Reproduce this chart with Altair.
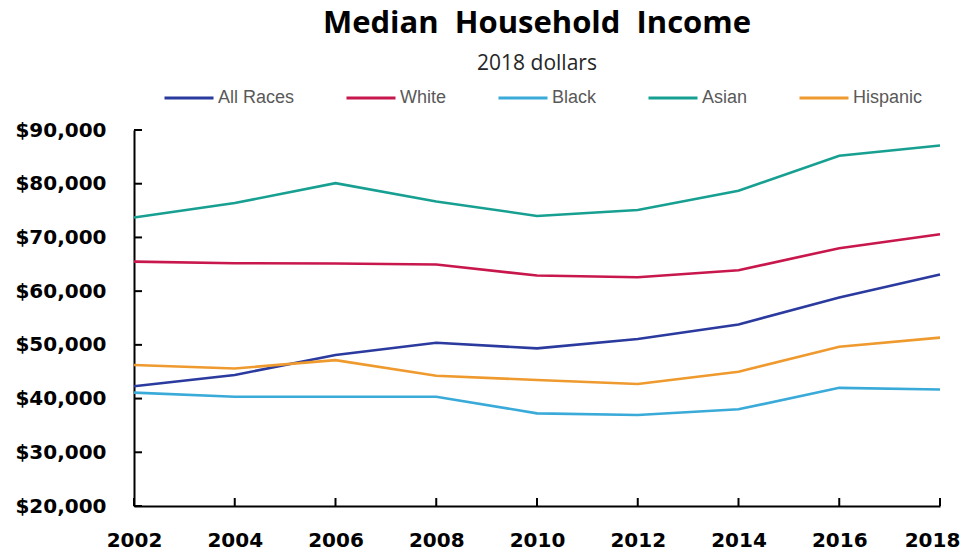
import altair as alt
import pandas as pd

years = [2002, 2004, 2006, 2008, 2010, 2012, 2014, 2016, 2018]
series = ["All Races", "White", "Black", "Asian", "Hispanic"]
all_races = [42300, 44400, 48100, 50400, 49350, 51100, 53800, 58800, 63100]
white = [65500, 65200, 65150, 64950, 62900, 62600, 63900, 68000, 70600]
black = [41100, 40350, 40350, 40350, 37250, 36950, 38000, 42000, 41700]
asian = [73700, 76400, 80100, 76700, 74000, 75100, 78700, 85200, 87100]
hispanic = [46250, 45600, 47150, 44250, 43450, 42700, 45000, 49650, 51350]
colors = ["#2b3a9e", "#c8174c", "#3aaad9", "#17a091", "#ef9a2e"]
y_ticks = [20000, 30000, 40000, 50000, 60000, 70000, 80000, 90000]

values = [all_races, white, black, asian, hispanic]
rows = []
for name, vals in zip(series, values):
    for yr, v in zip(years, vals):
        rows.append({"year": yr, "income": v, "series": name})
df = pd.DataFrame(rows)

x_scale = alt.Scale(domain=[2002, 2018], nice=False, zero=False)
y_scale = alt.Scale(domain=[20000, 90000], nice=False, zero=False)

lines = alt.Chart(df).mark_line(strokeWidth=2.6).encode(
    x=alt.X("year:Q", scale=x_scale,
            axis=alt.Axis(values=years, format="d", title=None, grid=False,
                          tickSize=0, labelPadding=24, labelFont="DejaVu Sans",
                          labelFontWeight="bold", labelFontSize=20, labelColor="#000",
                          labelFlush=False, labelOverlap=False,
                          labelOffset={"expr": "datum.value == 2018 ? -8 : 0"},
                          domainColor="#000", domainWidth=2)),
    y=alt.Y("income:Q", scale=y_scale,
            axis=alt.Axis(values=y_ticks, format="$,d", title=None, grid=False,
                          tickSize=0, labelPadding=28, labelFont="DejaVu Sans",
                          labelFontWeight="bold", labelFontSize=20, labelColor="#000",
                          labelFlush=False, labelOverlap=False,
                          domainColor="#000", domainWidth=2)),
    color=alt.Color("series:N", sort=series,
                    scale=alt.Scale(domain=series, range=colors),
                    legend=alt.Legend(title=None, orient="none", legendX=29, legendY=-58,
                                      direction="horizontal", columns=5, columnPadding=45,
                                      symbolType="stroke", symbolSize=2401,
                                      symbolStrokeWidth=3, labelFont="Liberation Sans",
                                      labelFontSize=18, labelColor="#595959",
                                      labelOffset=3, padding=0)),
    order=alt.Order("year:Q"),
)

ytick_df = pd.DataFrame({"income": y_ticks})
yticks = alt.Chart(ytick_df).mark_rule(color="#000", strokeWidth=2).encode(
    y=alt.Y("income:Q", scale=y_scale),
    x=alt.value(0), x2=alt.value(8),
)
xtick_df = pd.DataFrame({"year": years})
xticks = alt.Chart(xtick_df).mark_rule(color="#000", strokeWidth=2).encode(
    x=alt.X("year:Q", scale=x_scale),
    y=alt.value(376), y2=alt.value(368),
)

chart = alt.layer(lines, yticks, xticks).properties(
    width=806, height=376,
    padding={"left": 126, "top": 122, "right": 20, "bottom": 45},
    autosize=alt.AutoSizeParams(type="none"),
    title=alt.TitleParams(text="Median\u00a0 Household\u00a0 Income", subtitle="2018 dollars",
                          font="Open Sans", fontSize=31, fontWeight="bold", color="#000",
                          subtitleFont="Open Sans", subtitleFontSize=21, subtitleColor="#262626",
                          subtitlePadding=13, anchor="middle", offset=-3),
).configure_view(stroke=None)

chart.save("out.html", embed_options={"renderer": "svg", "actions": False})
